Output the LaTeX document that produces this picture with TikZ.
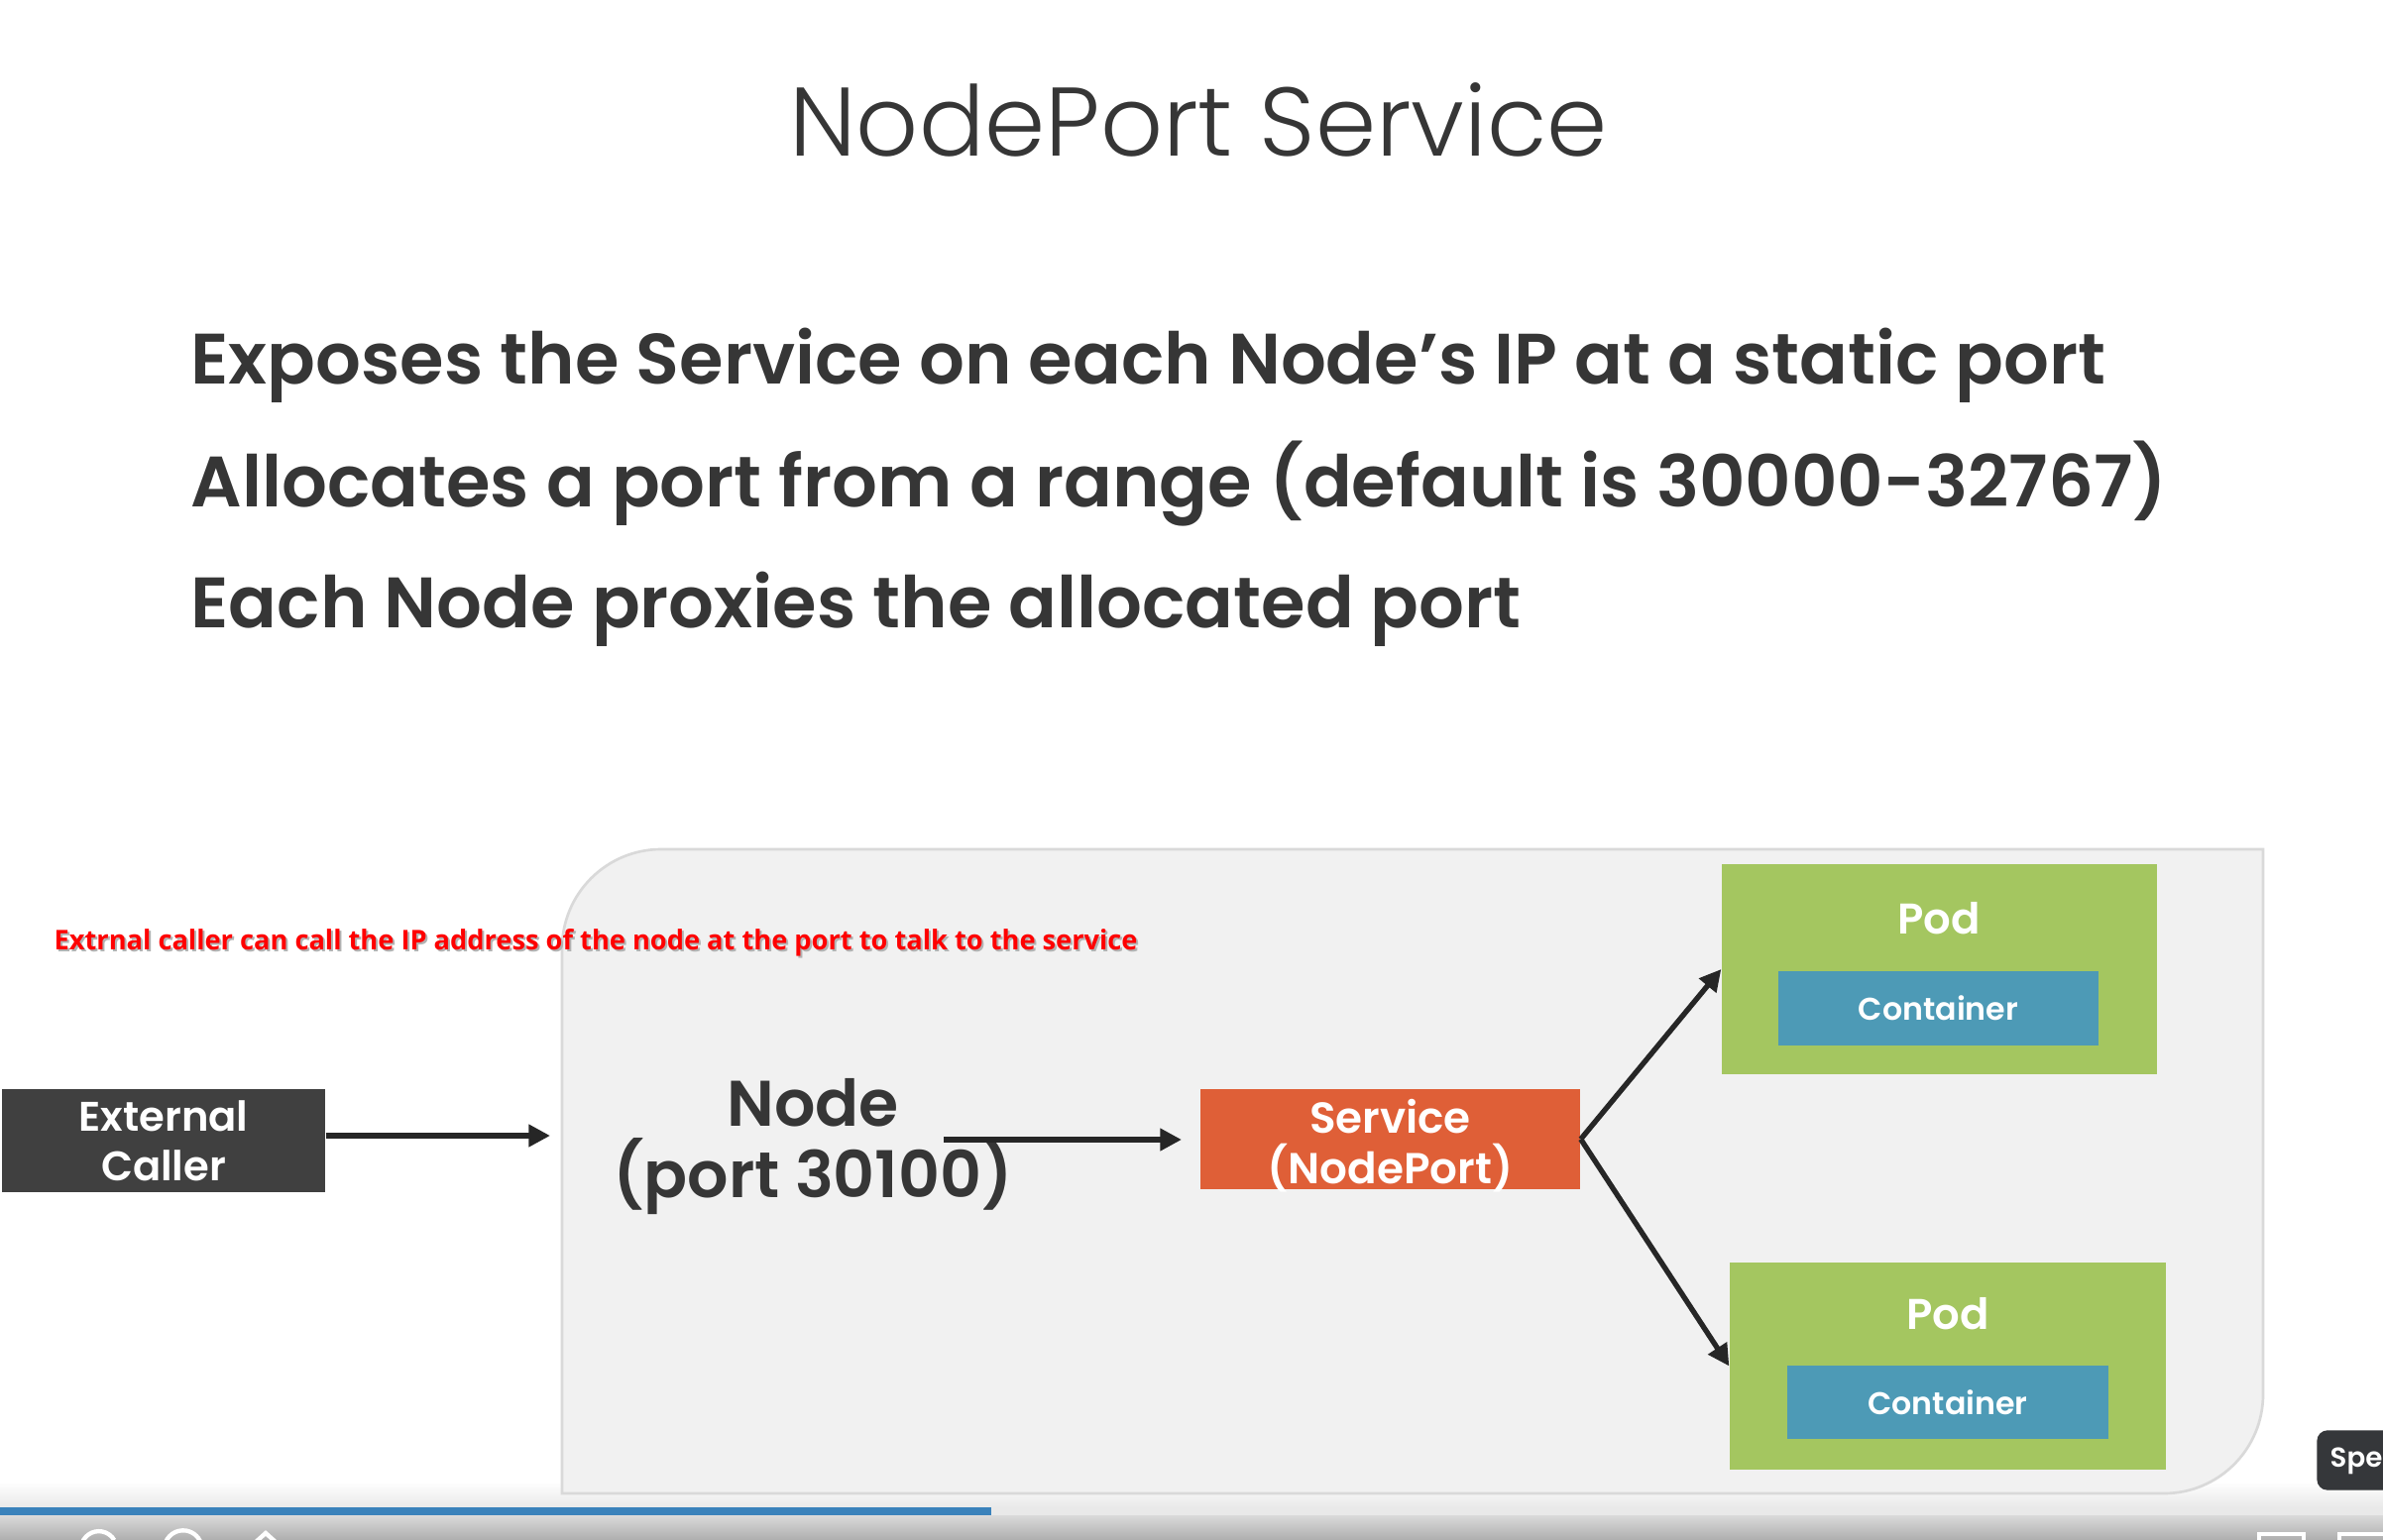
\documentclass[tikz,border=0pt]{standalone}
\usepackage{fontspec}
\usetikzlibrary{arrows.meta,positioning}
\newfontfamily\titlefont{Poppins Light}
\newfontfamily\bfnt{Poppins SemiBold}
\newfontfamily\redfont{Open Sans}
\definecolor{txtdark}{HTML}{363636}
\definecolor{panelfill}{HTML}{F1F1F1}
\definecolor{panelline}{HTML}{D9D9D9}
\definecolor{extfill}{HTML}{404040}
\definecolor{svcfill}{HTML}{DF5F37}
\definecolor{podfill}{HTML}{A4C660}
\definecolor{contfill}{HTML}{4D9AB6}
\definecolor{notered}{HTML}{FF0000}
\definecolor{spefill}{HTML}{35373A}
\definecolor{progblue}{HTML}{3A82BB}
\definecolor{barlight}{HTML}{E9E9E9}
\definecolor{ctrltop}{HTML}{DADADA}
\definecolor{ctrlbot}{HTML}{AEAEAE}
\tikzset{
  box/.style={rectangle, inner sep=0pt, text=white, align=center},
  bullet/.style={anchor=base west, inner sep=0pt, text=txtdark, font=\bfnt\fontsize{21.6}{24}\selectfont},
  conn/.style={draw=black!85, line width=1.6pt, -{Triangle[length=6.5pt,width=6.5pt]}},
}
\begin{document}
\begin{tikzpicture}[x=0.3pt,y=-0.3pt]
\useasboundingbox (0,0) rectangle (2404,1554);
\fill[white] (0,0) rectangle (2404,1554);
% player chrome (behind panel)
\shade[top color=white, bottom color=barlight] (0,1495) rectangle (2404,1521);
% title
\node[anchor=base, inner sep=0pt, text=txtdark, font=\titlefont\fontsize{29.5}{31}\selectfont] (title) at (1209,158) {NodePort Service};
% bullets
\node[bullet] (b1) at (192,388) {Exposes the Service on each Node’s IP at a static port};
\node[bullet] (b2) at (192,512) {Allocates a port from a range (default is 30000-32767)};
\node[bullet] (b3) at (192,633) {Each Node proxies the allocated port};
% panel
\filldraw[fill=panelfill, draw=panelline, line width=0.8pt]
  (567,1507) -- (567,957) arc[start angle=180,end angle=270,radius=100]
  -- (2283,857) -- (2283,1407) arc[start angle=0,end angle=90,radius=100] -- cycle;
% red note
\node[anchor=base west, inner sep=0pt, text=black!30] (noteshadow) at (56,960) {\resizebox{327.9pt}{6.3pt}{\redfont\bfseries Extrnal caller can call the IP address of the node at the port to talk to the service}};
\node[anchor=base west, inner sep=0pt, text=notered] (note) at (54,958) {\resizebox{327.9pt}{6.3pt}{\redfont\bfseries Extrnal caller can call the IP address of the node at the port to talk to the service}};
% boxes
\node[box, fill=extfill, minimum width=97.8pt, minimum height=31.2pt, font=\bfnt\fontsize{12.5}{15}\selectfont] (ext) at (165,1151) {External\\Caller};
\node[anchor=center, inner sep=0pt, align=center, text=txtdark, font=\bfnt\fontsize{19.5}{21.6}\selectfont] (node) at (820,1157) {Node\\(port 30100)};
\node[box, fill=svcfill, minimum width=114.9pt, minimum height=30.3pt] (svc) at (1402.5,1149.5) {};
\node[box, font=\bfnt\fontsize{13.1}{15.2}\selectfont] (svct) at (1402.5,1156) {Service\\(NodePort)};
\node[box, fill=podfill, minimum width=131.7pt, minimum height=63.6pt] (pod1) at (1956.5,978) {};
\node[box, fill=contfill, minimum width=96.9pt, minimum height=22.5pt, font=\bfnt\fontsize{9.5}{11}\selectfont] (cont1) at (1955.5,1017.5) {Container};
\node[inner sep=0pt, text=white, font=\bfnt\fontsize{13}{15}\selectfont] (pod1t) at (1956,927) {Pod};
\node[box, fill=podfill, minimum width=132pt, minimum height=62.7pt] (pod2) at (1965,1378.5) {};
\node[box, fill=contfill, minimum width=97.2pt, minimum height=22.2pt, font=\bfnt\fontsize{9.5}{11}\selectfont] (cont2) at (1965,1415) {Container};
\node[inner sep=0pt, text=white, font=\bfnt\fontsize{13}{15}\selectfont] (pod2t) at (1965,1326) {Pod};
% connectors
\coordinate (a1end) at (555,1146);
\coordinate (a2start) at (952,1150);
\coordinate (a2end) at (1192,1150);
\draw[conn] (ext.east |- a1end) -- (a1end);
\draw[conn] (a2start) -- (a2end);
\draw[conn] (svc.east) -- (pod1.west);
\draw[conn] (svc.east) -- (pod2.west);
% player chrome
\fill[barlight] (0,1521) rectangle (2404,1529);
\fill[progblue] (0,1521) rectangle (1000,1529);
\shade[top color=ctrltop, bottom color=ctrlbot] (0,1529) rectangle (2404,1554);
\draw[white, line width=1.3pt] (82,1560) arc[start angle=190,end angle=330,radius=18];
\draw[white, line width=1.3pt] (166,1560) arc[start angle=190,end angle=350,radius=19];
\draw[white, line width=1.3pt] (258,1556) -- (268,1547) -- (278,1556);
\draw[white, line width=1.3pt] (2279,1570) rectangle (2324,1548);
\draw[white, line width=1.3pt] (2360,1570) rectangle (2420,1548);
\filldraw[fill=spefill, draw=spefill, rounded corners=3pt] (2338,1444) rectangle (2440,1503);
\node[anchor=west, inner sep=0pt, text=white, font=\bfnt\fontsize{8.3}{10}\selectfont] (spe) at (2350,1474) {Spe};
\end{tikzpicture}
\end{document}
